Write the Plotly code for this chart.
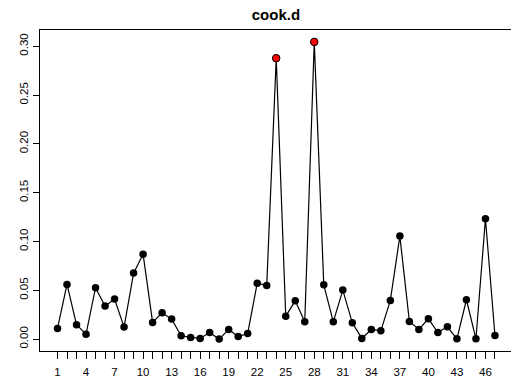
import plotly.graph_objects as go

# Cook's distance for each of the 47 observations
obs = list(range(1, 48))
cook_d = [
    0.0109, 0.0560, 0.0147, 0.0051, 0.0526, 0.0338, 0.0410, 0.0123, 0.0676, 0.0870,
    0.0171, 0.0270, 0.0205, 0.0034, 0.0017, 0.0007, 0.0068, 0.0000, 0.0099, 0.0027,
    0.0058, 0.0572, 0.0550, 0.2877, 0.0235, 0.0392, 0.0177, 0.3044, 0.0556, 0.0177,
    0.0502, 0.0167, 0.0007, 0.0099, 0.0085, 0.0396, 0.1055, 0.0181, 0.0099, 0.0208,
    0.0068, 0.0126, 0.0003, 0.0403, 0.0003, 0.1232, 0.0038,
]
# observations flagged as influential
flagged = [24, 28]

x_ticks = obs
x_ticktext = [str(i) if (i - 1) % 3 == 0 else "" for i in obs]
y_ticks = [0.00, 0.05, 0.10, 0.15, 0.20, 0.25, 0.30]
y_ticktext = ["0.00", "0.05", "0.10", "0.15", "0.20", "0.25", "0.30"]

font_family = "Liberation Sans, Arial, Helvetica, sans-serif"

fig = go.Figure()
fig.add_trace(go.Scatter(
    x=obs, y=cook_d, mode="lines+markers",
    line=dict(color="black", width=1.2),
    marker=dict(color="black", size=7.5),
    showlegend=False, hoverinfo="x+y",
))
fig.add_trace(go.Scatter(
    x=flagged, y=[cook_d[i - 1] for i in flagged], mode="markers",
    marker=dict(color="red", size=7.5, line=dict(color="black", width=1)),
    showlegend=False, hoverinfo="x+y",
))

n = len(obs)
pad = (n - 1) * 0.04
ymax = max(cook_d)
ypad = ymax * 0.04

fig.update_layout(
    width=511, height=386,
    margin=dict(l=40, r=0, t=30, b=35),
    paper_bgcolor="white", plot_bgcolor="white",
    font=dict(family=font_family, color="black", size=11.5),
    title=dict(text="<b>cook.d</b>", x=0.54, xanchor="center",
               y=1 - 15 / 386, yanchor="middle",
               font=dict(size=15, family=font_family, color="black")),
    xaxis=dict(
        range=[1 - pad, 1 - pad + (511 - 40) / 9.51],
        tickmode="array", tickvals=x_ticks, ticktext=x_ticktext,
        ticks="outside", ticklen=7, tickwidth=1, tickcolor="black",
        showgrid=False, zeroline=False,
        showline=True, linecolor="black", linewidth=1, mirror=True,
        tickfont=dict(size=11.5, color="black"), ticklabelstandoff=3,
    ),
    yaxis=dict(
        range=[-ypad, ymax + ypad],
        tickmode="array", tickvals=y_ticks, ticktext=y_ticktext,
        tickangle=-90,
        ticks="outside", ticklen=6, tickwidth=1, tickcolor="black",
        showgrid=False, zeroline=False,
        showline=True, linecolor="black", linewidth=1, mirror=True,
        tickfont=dict(size=11.5, color="black"),
    ),
)

fig.write_html("out.html")
